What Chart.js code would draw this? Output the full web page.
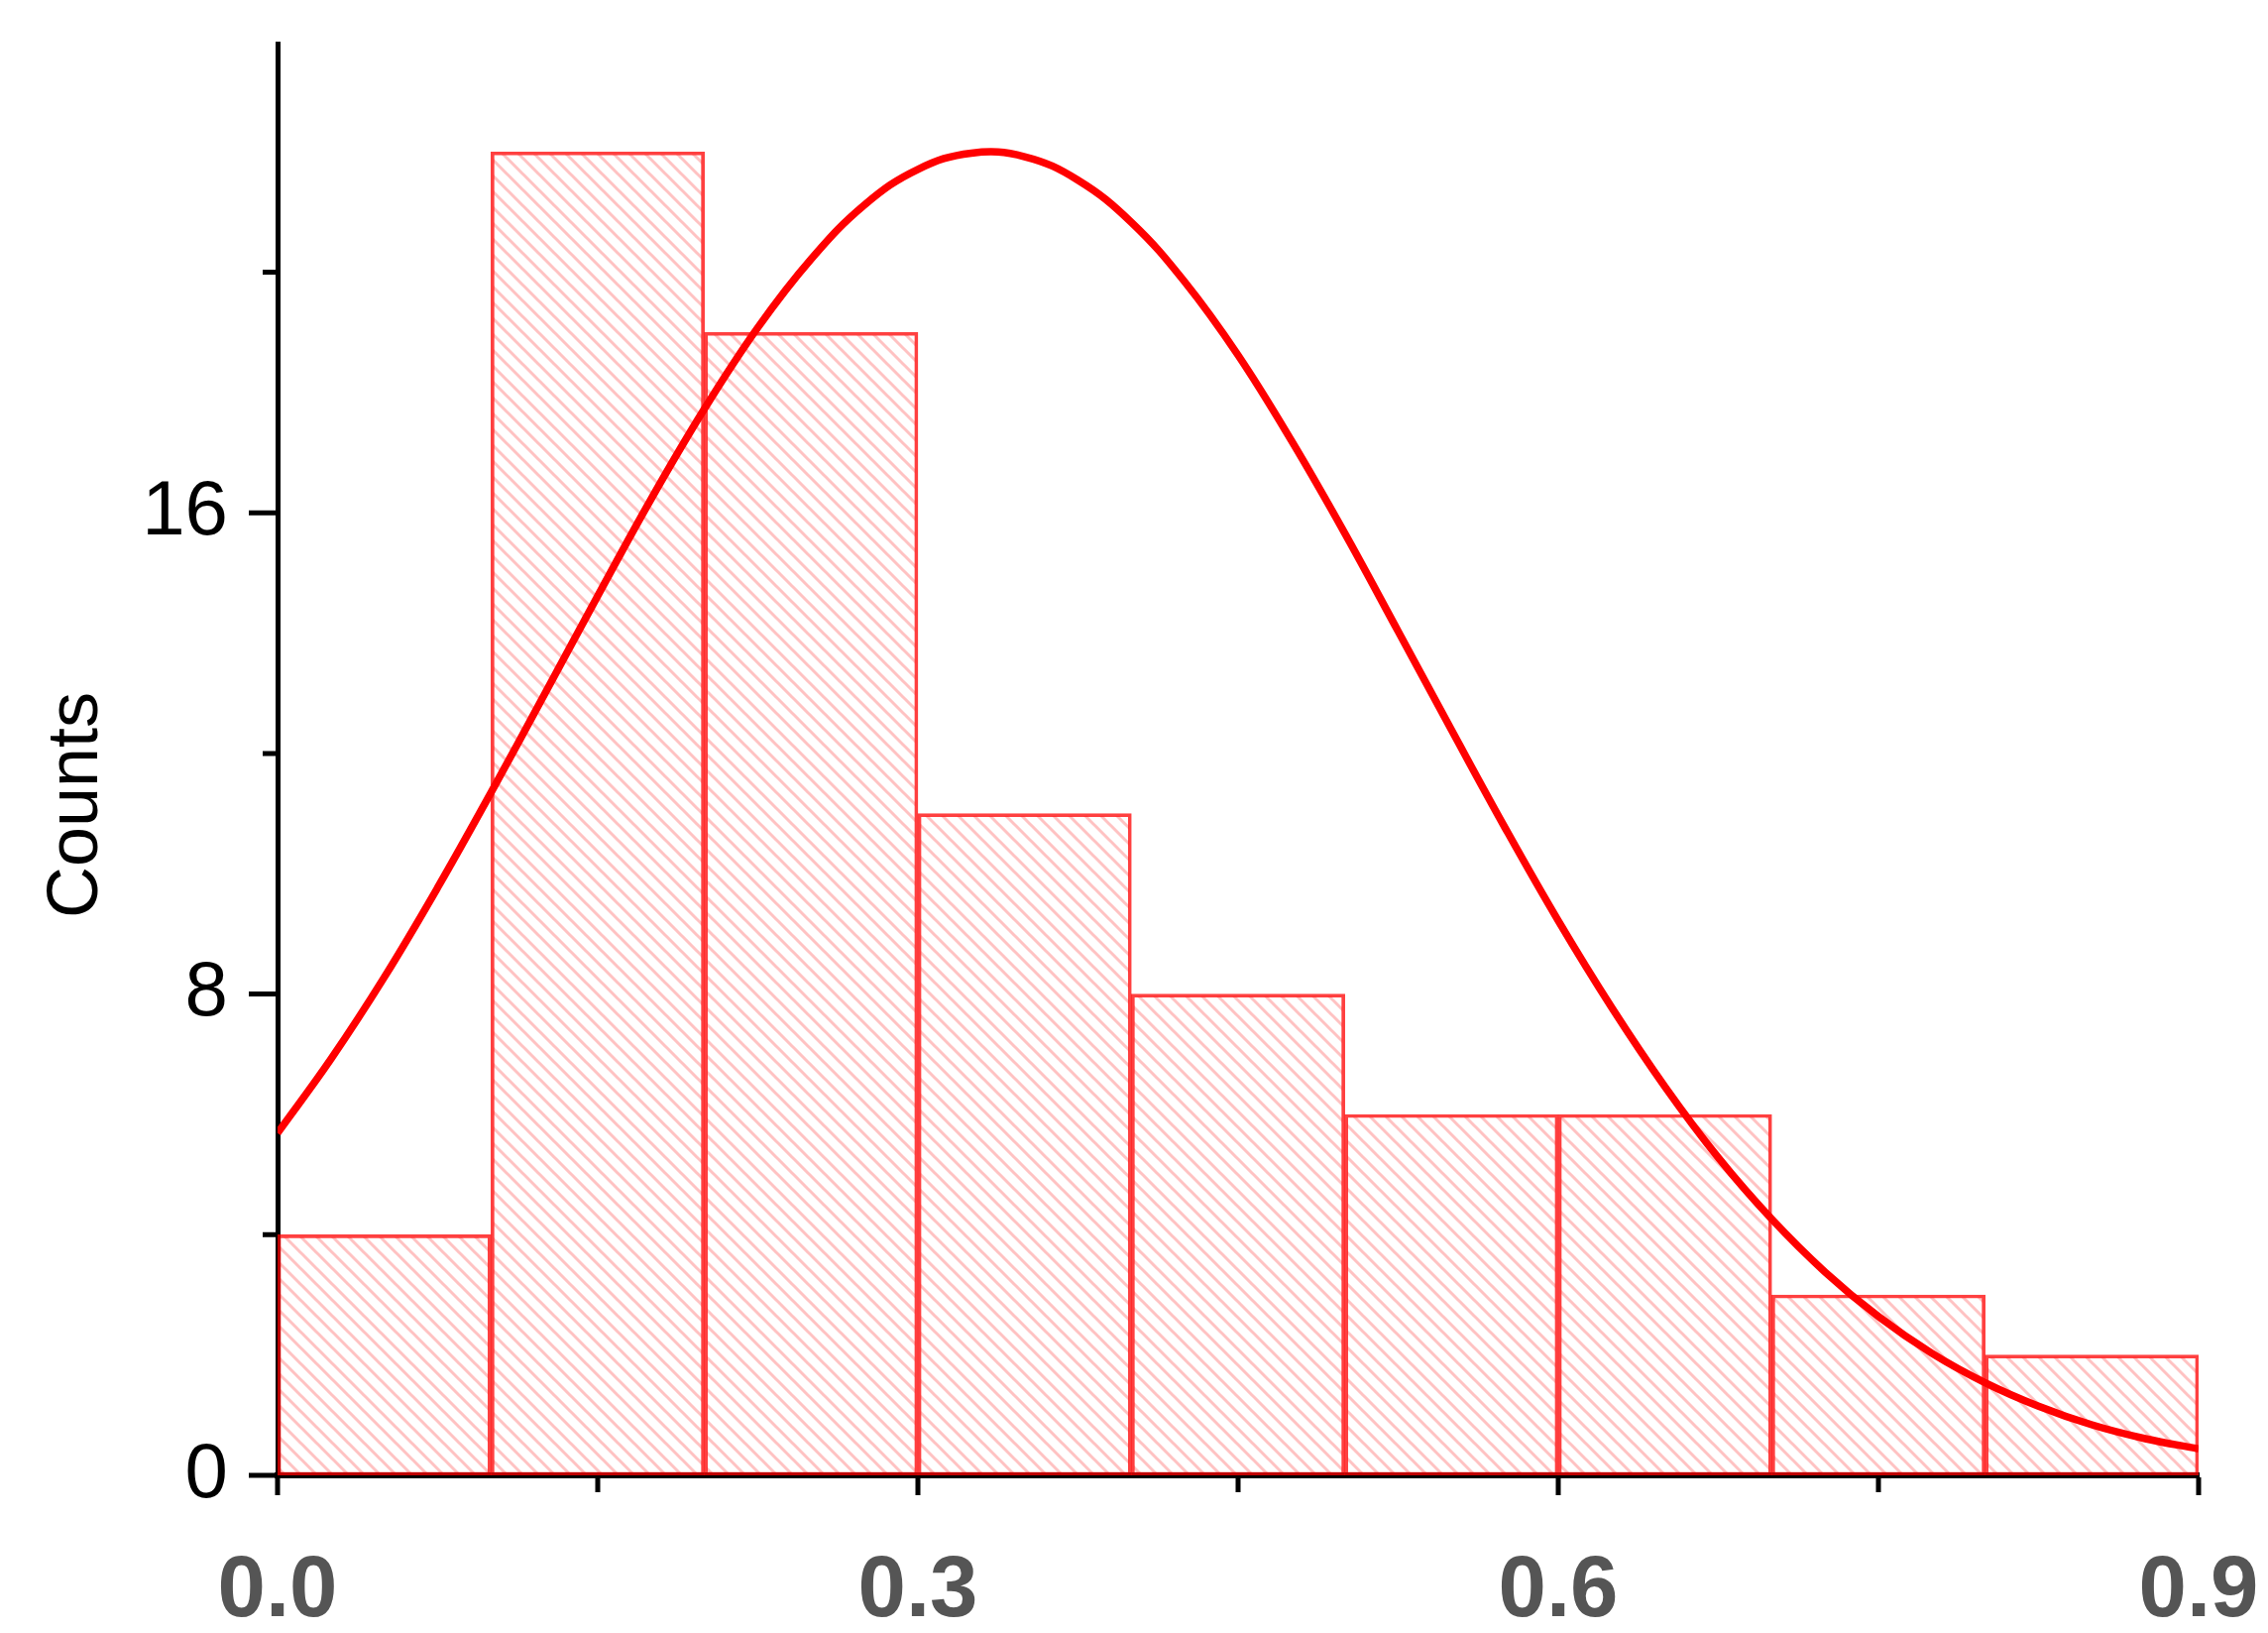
<!DOCTYPE html>
<html>
<head>
    <meta charset="utf-8" />
    <title>Counts histogram</title>
    <script src="https://cdn.jsdelivr.net/npm/chart.js@4.4.1/dist/chart.umd.min.js"></script>
    <style>
        html, body { margin: 0; padding: 0; background: #fff; }
        #wrap { width: 2288px; height: 1647px; }
    </style>
</head>
<body>
    <div id="wrap"><canvas id="hist" width="2288" height="1647"></canvas></div>
    <script>
        // histogram bins (centres) and counts
        var binCenters = [0.05, 0.15, 0.25, 0.35, 0.45, 0.55, 0.65, 0.75, 0.85];
        var counts = [4, 22, 19, 11, 8, 6, 6, 3, 2];

        // fitted curve, every 0.025
        var fitX = [0, 0.025, 0.05, 0.075, 0.1, 0.125, 0.15, 0.175, 0.2, 0.225, 0.25, 0.275, 0.3, 0.325, 0.35,
                    0.375, 0.4, 0.425, 0.45, 0.475, 0.5, 0.525, 0.55, 0.575, 0.6, 0.625, 0.65, 0.675, 0.7,
                    0.725, 0.75, 0.775, 0.8, 0.825, 0.85, 0.875, 0.9];
        var fitY = [5.69, 6.92, 8.28, 9.77, 11.35, 12.98, 14.62, 16.23, 17.73, 19.08, 20.22, 21.12, 21.71, 21.98, 21.92,
                    21.53, 20.83, 19.84, 18.62, 17.20, 15.66, 14.03, 12.39, 10.77, 9.22, 7.78, 6.46, 5.28, 4.26,
                    3.38, 2.64, 2.03, 1.54, 1.15, 0.84, 0.61, 0.44];

        // tick labels
        var xTicks = [0, 0.3, 0.6, 0.9];
        var yTicks = [0, 8, 16];
        var yTitle = 'Counts';

        var sans = '"Liberation Sans", Arial, sans-serif';

        function hatch() {
            var s = 16;
            var c = document.createElement('canvas');
            c.width = s; c.height = s;
            var g = c.getContext('2d');
            g.strokeStyle = 'rgba(255,0,0,0.24)';
            g.lineWidth = 3;
            g.beginPath();
            g.moveTo(-2, -2); g.lineTo(s + 2, s + 2);
            g.moveTo(s - 2, -2); g.lineTo(s + 2, 2);
            g.moveTo(-2, s - 2); g.lineTo(2, s + 2);
            g.stroke();
            return g.createPattern(c, 'repeat');
        }

        function noPad(s) {
            s.paddingLeft = 0; s.paddingRight = 0;
            s.paddingTop = 0; s.paddingBottom = 0;
        }

        var ctx = document.getElementById('hist').getContext('2d');

        // axis tick marks + y title
        var extras = {
            id: 'extras',
            afterDraw: function (chart) {
                var c = chart.ctx, xs = chart.scales.x, ys = chart.scales.y;
                var b = chart.chartArea.bottom + 2, l = chart.chartArea.left - 2;
                c.save();
                c.strokeStyle = '#000';
                c.lineWidth = 5;
                c.beginPath();
                xTicks.forEach(function (v, i) {
                    var px = xs.getPixelForValue(v);
                    c.moveTo(px, b); c.lineTo(px, b + 18);
                    if (i < xTicks.length - 1) {
                        var mx = xs.getPixelForValue((v + xTicks[i + 1]) / 2);
                        c.moveTo(mx, b); c.lineTo(mx, b + 15);
                    }
                });
                yTicks.forEach(function (v, i) {
                    var py = ys.getPixelForValue(v);
                    c.moveTo(l, py); c.lineTo(l - 27, py);
                    var step = i < yTicks.length - 1 ? yTicks[i + 1] - v : v - yTicks[i - 1];
                    var my = ys.getPixelForValue(v + step / 2);
                    if (my > chart.chartArea.top) { c.moveTo(l, my); c.lineTo(l - 13, my); }
                });
                c.stroke();

                c.fillStyle = '#000';
                c.font = '72px ' + sans;
                c.textAlign = 'center';
                c.textBaseline = 'middle';
                c.translate(78, 812);
                c.rotate(-Math.PI / 2);
                c.fillText(yTitle, 0, 0);
                c.restore();
            }
        };

        new Chart(ctx, {
            type: 'bar',
            data: {
                datasets: [{
                    type: 'line',
                    order: 0,
                    data: fitX.map(function (x, i) { return { x: x, y: fitY[i] }; }),
                    borderColor: '#ff0000',
                    borderWidth: 7.5,
                    pointRadius: 0,
                    tension: 0.4,
                    fill: false
                }, {
                    type: 'bar',
                    order: 1,
                    data: binCenters.map(function (x, i) { return { x: x, y: counts[i] }; }),
                    backgroundColor: hatch(),
                    borderColor: 'rgba(255,0,0,0.75)',
                    borderWidth: 3,
                    borderSkipped: false,
                    barPercentage: 1,
                    categoryPercentage: 1
                }]
            },
            options: {
                responsive: false,
                animation: false,
                layout: { padding: { left: 0, right: 70, top: 44, bottom: 0 } },
                plugins: { legend: { display: false }, tooltip: { enabled: false } },
                scales: {
                    x: {
                        type: 'linear',
                        min: 0,
                        max: 0.9,
                        offset: false,
                        grid: { display: false, drawTicks: false, offset: false },
                        border: { display: true, color: '#000', width: 6 },
                        afterBuildTicks: function (s) { s.ticks = xTicks.map(function (v) { return { value: v }; }); },
                        afterFit: function (s) { s.height = 159; noPad(s); },
                        ticks: {
                            padding: 66,
                            maxRotation: 0,
                            color: '#555',
                            font: { family: sans, size: 87, weight: 'bold' },
                            callback: function (v) { return v.toFixed(1); }
                        }
                    },
                    y: {
                        min: 0,
                        max: 23.8,
                        grid: { display: false, drawTicks: false },
                        border: { display: true, color: '#000', width: 5 },
                        afterBuildTicks: function (s) { s.ticks = yTicks.map(function (v) { return { value: v }; }); },
                        afterFit: function (s) { s.width = 280; noPad(s); },
                        ticks: {
                            padding: 50,
                            color: '#000',
                            font: { family: sans, size: 78 }
                        }
                    }
                }
            },
            plugins: [extras]
        });
    </script>
</body>
</html>
